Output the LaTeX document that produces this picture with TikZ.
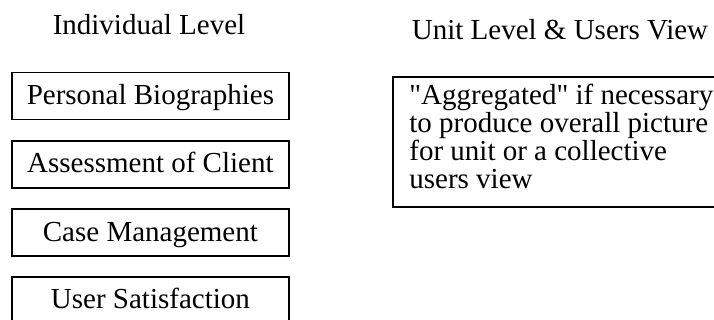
\documentclass[tikz,border=0pt]{standalone}
\usepackage{fontspec}
\setmainfont{Liberation Serif}[Ligatures=TeXOff]
\begin{document}
\begin{tikzpicture}[x=0.5pt,y=-0.5pt,
  every node/.style={font=\fontsize{14.5pt}{14pt}\selectfont},
  heading/.style={anchor=base, inner sep=0pt},
  levelbox/.style={draw, line width=0.9pt, anchor=north west, inner sep=0pt,
    minimum width=138.5pt, minimum height=23.5pt,
    text height=16pt, text depth=7.5pt},
  aggbox/.style={draw, line width=0.9pt, anchor=north west, inner sep=0pt,
    minimum width=170pt, minimum height=65pt},
  aggtext/.style={anchor=north west, inner sep=0pt, align=left}]
\useasboundingbox (0,0) rectangle (714,320);
\clip (0,0) rectangle (714,320);

% column headings
\node[heading] (indiv) at (149,35) {Individual Level};
\node[heading] (unit)  at (560,40) {Unit Level \& Users View};

% individual level items
\node[levelbox] (bio)    at (11,71.7)  {Personal Biographies};
\node[levelbox] (assess) at (11,140)   {Assessment of Client};
\node[levelbox] (case)   at (11,208.3) {Case Management};
\node[levelbox] (satis)  at (11,276)   {User Satisfaction};

% unit level box
\node[aggbox] (agg) at (392,76) {};
\node[aggtext] (aggtxt) at (409,82.3)
  {\rule{0pt}{11pt}"Aggregated" if necessary\\
   to produce overall picture\\
   for unit or a collective\\
   users view};
\end{tikzpicture}
\end{document}
